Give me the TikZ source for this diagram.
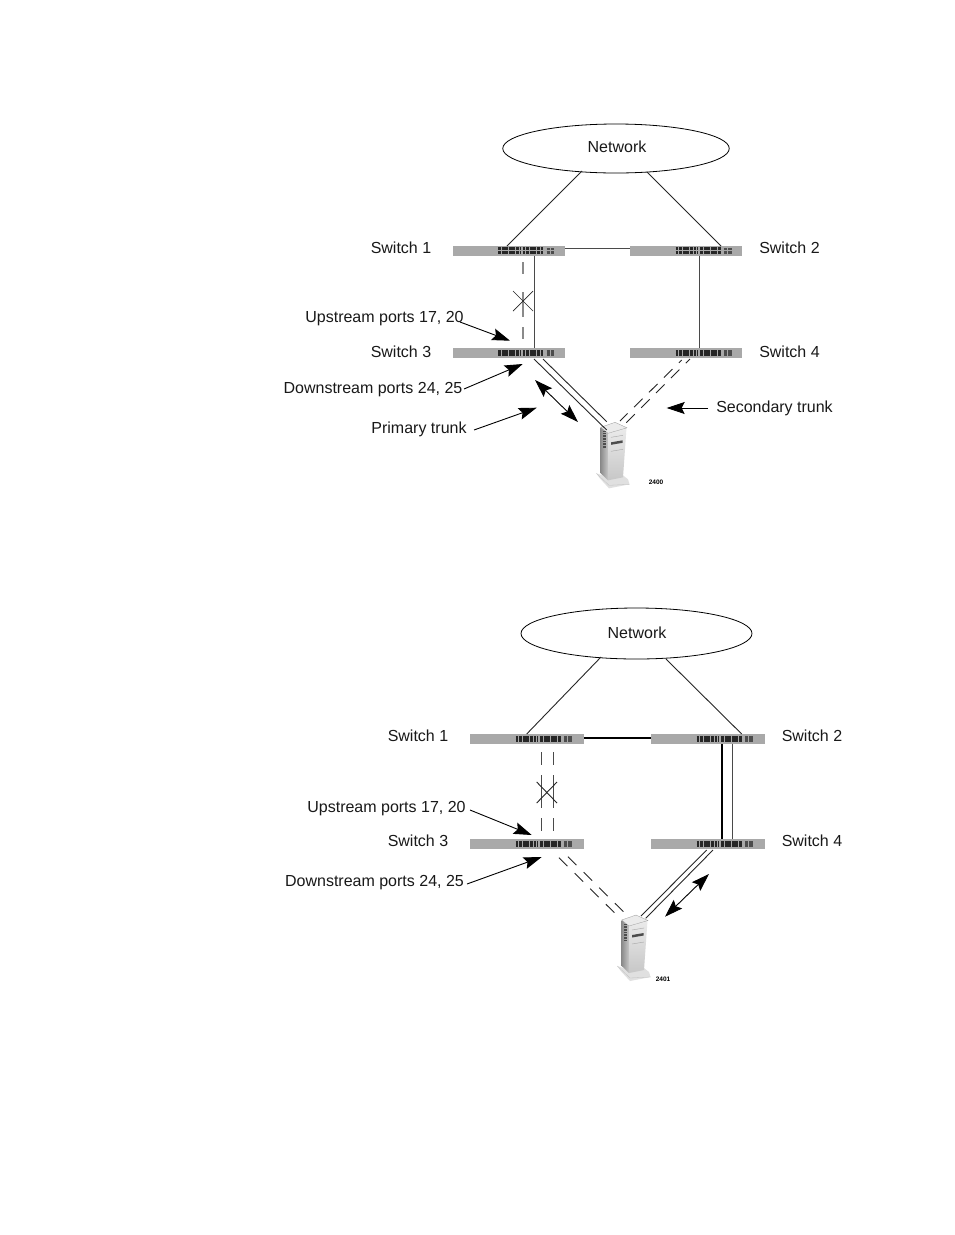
\documentclass[tikz,border=0pt]{standalone}
\usepackage{fontspec}
\setmainfont{Liberation Sans}
\usetikzlibrary{arrows.meta,shapes.geometric,calc}
\definecolor{swgray}{HTML}{A9A9A9}
\definecolor{linegray}{HTML}{4A4A4A}
\definecolor{dashgray}{HTML}{8A8A8A}
\tikzset{
  lbl/.style={font=\fontsize{16}{18}\selectfont,inner sep=0pt,text=black!90,text height=11.5pt,text depth=3.4pt,yshift=-1pt},
  tiny/.style={font=\fontsize{6.5}{7}\bfseries\selectfont,inner sep=0pt},
  cloud/.style={draw=black,ellipse,line width=0.8pt,inner sep=0pt},
  swbox/.style={fill=swgray,draw=none,minimum height=10pt,inner sep=0pt,outer sep=0pt},
  wire/.style={draw=black!85,line width=0.9pt},
  thinwire/.style={draw=linegray,line width=0.8pt},
  thickwire/.style={draw=black,line width=1.5pt},
  bigarrow/.style={draw=black,line width=0.9pt,-{Stealth[length=18pt,width=12pt,inset=3pt]}},
  bothway/.style={draw=black,line width=0.9pt,{Stealth[length=18pt,width=12pt,inset=3pt]}-{Stealth[length=18pt,width=12pt,inset=3pt]}},
  trunkdash/.style={draw=black!85,line width=0.9pt,dash pattern=on 12pt off 9pt},
}
\newcommand{\swi}[4]{%
  \node[swbox,minimum width=#4] (#1) at (#2,#3) {};
  \begin{scope}[shift={(#1.west)}]
    \foreach \yy in {-1.7,1.7}{
      \draw[black!85,line width=2.8pt,dash pattern=on 2.9pt off 0.7pt] (45.5,\yy) -- (67.5,\yy);
      \draw[black!85,line width=2.8pt,dash pattern=on 2.9pt off 0.7pt] (70,\yy) -- (91.5,\yy);
      \draw[black!70,line width=2.6pt,dash pattern=on 3.4pt off 1pt] (94,\yy) -- (102.5,\yy);
    }
  \end{scope}
}
\newcommand{\srv}[3]{%
  \begin{scope}[shift={(#2,#3)}]
    \fill[black!12] (-3.7,46) -- (-0.2,51) -- (9,61) -- (29.5,57) -- (28,52) -- (23,48) -- (8,50) -- cycle;
    \draw[black!25,line width=0.3pt] (-3.7,46) -- (9,58) -- (29.5,57);
    \shade[left color=black!45,right color=black!22] (0.7,0) -- (8,6) -- (8,53) -- (0.7,46) -- cycle;
    \shade[top color=black!8,bottom color=black!22] (8,6) -- (26.5,0.5) -- (23,50) -- (8,53) -- cycle;
    \fill[black!8] (0.7,0) -- (15,-5) -- (27,0.5) -- (8,6) -- cycle;
    \draw[black!40,line width=0.3pt] (0.7,0) -- (15,-5) -- (27,0.5) -- (8,6) -- cycle;
    \fill[black!70] (11,15) -- (22.7,13) -- (22.7,15.5) -- (11,17.5) -- cycle;
    \draw[black!35,line width=0.4pt] (11,10) -- (23,8);
    \draw[black!35,line width=0.4pt] (11,24) -- (23,22);
    \draw[black!70,line width=3pt,dash pattern=on 0.8pt off 0.8pt] (4,4) -- (4,21);
    \coordinate (#1) at (13,20);
  \end{scope}
}
\begin{document}
\begin{tikzpicture}[x=1pt,y=-1pt]
\useasboundingbox (0,0) rectangle (954,1235);
\fill[white] (0,0) rectangle (954,1235);

% ---------- upper diagram ----------
\node[cloud,minimum width=226.5pt,minimum height=49pt] (neta) at (616,148.5) {};
\node[lbl] (netat) at (617,147) {Network};
\swi{aone}{508.5}{250.5}{112pt}
\swi{atwo}{686}{250.5}{112pt}
\swi{athree}{508.5}{353}{112pt}
\swi{afour}{686}{353}{112pt}
\srv{asrv}{600}{427.3}

\coordinate (an1) at (582,171); \coordinate (aw1) at (507,246);
\coordinate (an2) at (647,172); \coordinate (aw2) at (721,246);
\draw[wire] (an1) -- (aw1);
\draw[wire] (an2) -- (aw2);
\draw[thinwire] (aone.east |- 0,248) -- (atwo.west |- 0,248);
\draw[thinwire] (534.5,255.5) -- (534.5,348);
\draw[thinwire] (699,255.5) -- (699,348);
\coordinate (adt) at (523,262); \coordinate (adb) at (523,339);
\draw[draw=dashgray,line width=1.1pt,dash pattern=on 11.5pt off 18.5pt on 25pt off 10pt on 12pt off 20pt] (adt) -- (adb);
\coordinate (axa) at (513,291); \coordinate (axb) at (533,311);
\coordinate (axc) at (513,311); \coordinate (axd) at (533,291);
\draw[wire,line width=0.7pt] (axa) -- (axb);
\draw[wire,line width=0.7pt] (axc) -- (axd);

\coordinate (at1a) at (534,359); \coordinate (at1b) at (606.7,430);
\coordinate (at2a) at (543,359); \coordinate (at2b) at (606.7,421.7);
\draw[wire] (at1a) -- (at1b);
\draw[wire] (at2a) -- (at2b);
\coordinate (ad1a) at (690,359); \coordinate (ad1b) at (624,425);
\coordinate (ad2a) at (681.7,360); \coordinate (ad2b) at (620,421);
\draw[trunkdash,dash phase=6pt] (ad1a) -- (ad1b);
\draw[trunkdash,dash phase=8pt] (ad2a) -- (ad2b);

\node[lbl] (aupl) at (384.5,317) {Upstream ports 17, 20};
\node[lbl] (adnl) at (373,388) {Downstream ports 24, 25};
\node[lbl] (aprl) at (419,428) {Primary trunk};
\node[lbl] (asel) at (774.5,407) {Secondary trunk};
\node[lbl] at (401,248) (as1) {Switch 1};
\node[lbl] at (789.5,248) (as2) {Switch 2};
\node[lbl] at (401,352) (as3) {Switch 3};
\node[lbl] at (789.5,352) (as4) {Switch 4};
\node[tiny] (anum) at (656,482) {2400};

\coordinate (au1) at (460,322); \coordinate (au2) at (510,340.7);
\draw[bigarrow] (au1) -- (au2);
\coordinate (ad1) at (464,389); \coordinate (ad2) at (522.7,364);
\draw[bigarrow] (ad1) -- (ad2);
\coordinate (ap1) at (474,430); \coordinate (ap2) at (536.7,407.7);
\draw[bigarrow] (ap1) -- (ap2);
\coordinate (ab1) at (535,380); \coordinate (ab2) at (578,422);
\draw[bothway] (ab1) -- (ab2);
\coordinate (as1c) at (708,408); \coordinate (as2c) at (666.7,408);
\draw[bigarrow] (as1c) -- (as2c);

% ---------- lower diagram ----------
\node[cloud,minimum width=231pt,minimum height=51pt] (netb) at (636.5,633.5) {};
\node[lbl] (netbt) at (637,633) {Network};
\swi{bone}{527}{739}{114pt}
\swi{btwo}{708}{739}{114pt}
\swi{bthree}{527}{844}{114pt}
\swi{bfour}{708}{844}{114pt}
\srv{bsrv}{621}{920}

\coordinate (bn1) at (601,657); \coordinate (bw1) at (526.7,734);
\coordinate (bn2) at (666,659); \coordinate (bw2) at (741.7,734);
\draw[wire] (bn1) -- (bw1);
\draw[wire] (bn2) -- (bw2);
\draw[thickwire,line width=1.3pt] (bone.east |- 0,738) -- (btwo.west |- 0,738);
\draw[thickwire,line width=1.3pt] (722,744) -- (722,839);
\draw[thinwire,line width=1pt] (732,744) -- (732,839);
\coordinate (bdat) at (541.7,752); \coordinate (bdab) at (541.7,831);
\coordinate (bdbt) at (553.3,752); \coordinate (bdbb) at (553.3,831);
\draw[thinwire,dash pattern=on 13pt off 10pt on 33pt off 10pt on 13pt off 20pt] (bdat) -- (bdab);
\draw[thinwire,dash pattern=on 13pt off 10pt on 33pt off 10pt on 13pt off 20pt] (bdbt) -- (bdbb);
\coordinate (bxa) at (536.7,782); \coordinate (bxb) at (557,803);
\coordinate (bxc) at (536.7,803); \coordinate (bxd) at (557,782);
\draw[wire] (bxa) -- (bxb);
\draw[wire] (bxc) -- (bxd);

\coordinate (bt1a) at (706.7,850); \coordinate (bt1b) at (641,916);
\coordinate (bt2a) at (713,850); \coordinate (bt2b) at (645.7,918.3);
\draw[wire] (bt1a) -- (bt1b);
\draw[wire] (bt2a) -- (bt2b);
\coordinate (bd1a) at (559,857.7); \coordinate (bd1b) at (616,914.3);
\coordinate (bd2a) at (568,856.7); \coordinate (bd2b) at (624,912.3);
\draw[trunkdash,dash pattern=on 12pt off 10pt] (bd1a) -- (bd1b);
\draw[trunkdash,dash pattern=on 12pt off 10pt] (bd2a) -- (bd2b);

\node[lbl] (bupl) at (386.5,807) {Upstream ports 17, 20};
\node[lbl] (bdnl) at (374.5,881) {Downstream ports 24, 25};
\node[lbl] at (418,736) (bs1) {Switch 1};
\node[lbl] at (812,736) (bs2) {Switch 2};
\node[lbl] at (418,841) (bs3) {Switch 3};
\node[lbl] at (812,841) (bs4) {Switch 4};
\node[tiny] (bnum) at (663,979) {2401};

\coordinate (bu1) at (470,810); \coordinate (bu2) at (531.7,835);
\draw[bigarrow] (bu1) -- (bu2);
\coordinate (bd1) at (467,884); \coordinate (bd2) at (541.7,857);
\draw[bigarrow] (bd1) -- (bd2);
\coordinate (bb1) at (709,874); \coordinate (bb2) at (665,916.7);
\draw[bothway] (bb1) -- (bb2);
\end{tikzpicture}
\end{document}
